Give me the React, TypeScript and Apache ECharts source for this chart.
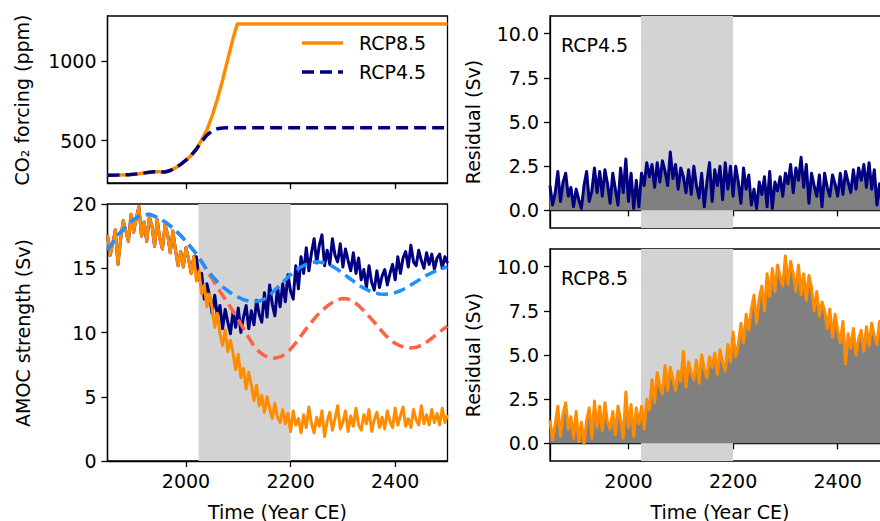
import React, { useEffect, useRef } from "react";
import * as echarts from "echarts";

const FONT = "DejaVu Sans";
const ORANGE = "#ff8c00";
const NAVY = "#000080";
const BLUE = "#1e90ff";
const TOMATO = "#ff6347";
const SHADE_COLOR = "#d3d3d3";
const FILL_COLOR = "#808080";

const X_MIN = 1850;
const X_MAX = 2500;
const X_TICKS = [2000, 2200, 2400];
const SHADE = [2024, 2200];
const LEGEND_NAMES = ["RCP8.5", "RCP4.5"];

// CO2 forcing (ppm)
const CO2_85_YEARS = [1850, 1870, 1890, 1910, 1930, 1940, 1950, 1960, 1970, 1980, 1990, 2000, 2010, 2020, 2030, 2040, 2050, 2060, 2070, 2080, 2090, 2098, 2500];
const CO2_85 = [284, 285, 287, 293, 302, 306, 305, 304, 313, 330, 352, 378, 408, 448, 505, 567, 655, 760, 880, 1010, 1140, 1232, 1232];
const CO2_45_YEARS = [1850, 1870, 1890, 1910, 1930, 1940, 1950, 1960, 1970, 1980, 1990, 2000, 2010, 2020, 2030, 2040, 2050, 2060, 2070, 2080, 2090, 2500];
const CO2_45 = [284, 285, 287, 293, 302, 306, 305, 304, 313, 330, 352, 378, 408, 448, 495, 535, 562, 575, 580, 581, 581, 581];
const CO2_TICKS = [500, 1000];

// AMOC strength (Sv), 5-year samples
const YEARS5 = Array.from({ length: 131 }, (_, i) => 1850 + 5 * i);
const HIST_YEARS = YEARS5.slice(0, 34);
const FUT_YEARS = YEARS5.slice(34);
const AMOC_HIST = [
  17.6, 16.0, 16.9, 18.0, 15.3, 17.2, 18.7, 17.9, 17.1, 19.2,
  17.8, 18.9, 19.8, 17.5, 18.6, 17.1, 19.0, 18.3, 16.7, 18.8,
  17.3, 16.5, 18.4, 17.6, 16.2, 17.9, 16.4, 15.2, 16.3, 15.1,
  16.6, 15.7, 14.6, 15.9,
];
const AMOC_85 = [
  14.0, 14.8, 13.0, 13.7, 12.0, 13.0, 11.9, 10.4, 11.5, 9.9, 9.0, 10.2, 8.5, 9.4, 8.4, 7.1,
  8.3, 6.5, 7.2, 5.6, 6.9, 5.9, 4.7, 5.9, 4.3, 5.1, 3.8, 5.0, 4.1, 3.3, 4.5, 3.4, 3.0, 4.0, 2.9, 3.7,
  2.3, 3.9, 2.8, 3.3, 2.2, 3.6, 2.6, 4.2, 2.9, 2.2, 3.4, 2.7, 3.9, 1.9, 3.1, 3.8, 2.4, 3.3, 4.3, 2.5,
  3.0, 3.9, 2.3, 3.5, 2.7, 4.1, 2.8, 2.4, 3.6, 2.9, 4.0, 2.3, 3.2, 3.8, 2.6, 3.4, 2.5, 3.9, 3.1, 2.6,
  4.1, 2.8, 3.5, 4.2, 2.7, 3.3, 2.6, 4.0, 3.2, 2.8, 4.3, 2.9, 3.6, 2.8, 4.0, 3.0, 3.7, 2.8, 4.1, 3.0,
  3.6,
];
const AMOC_45 = [
  15.9, 14.1, 14.6, 12.6, 13.8, 12.9, 11.5, 12.9, 11.3, 12.1, 10.3, 11.8, 10.8, 9.9, 11.6, 10.4,
  11.9, 10.0, 11.2, 12.1, 10.3, 11.7, 10.6, 12.5, 11.4, 10.8, 13.1, 11.2, 13.7, 12.2, 11.3, 13.5, 12.0, 13.8, 12.4, 14.5,
  13.2, 12.6, 15.2, 13.4, 15.9, 14.6, 16.6, 14.8, 16.2, 17.3, 15.4, 16.8, 17.6, 15.2, 16.4, 15.3, 17.3, 16.0, 15.5, 16.9,
  15.1, 16.5, 15.6, 14.8, 16.2, 14.6, 15.8, 14.1, 14.9, 13.5, 15.2, 13.9, 13.3, 14.8, 13.5, 14.4, 14.9, 13.7, 14.6, 15.3,
  14.1, 15.9, 14.6, 15.8, 16.3, 15.1, 16.8, 15.5, 15.2, 16.4, 15.6, 15.0, 16.2, 15.3, 16.1, 14.9, 15.8, 16.1, 15.0, 15.9,
  15.4,
];

// Fitted curves (Sv), 10-year samples
const FIT_YEARS = Array.from({ length: 66 }, (_, i) => 1850 + 10 * i);
const FIT_BLUE = [
  16.4, 17.0, 17.6, 18.0, 18.5, 18.8, 19.05, 19.15, 19.2, 19.05,
  18.85, 18.6, 18.3, 17.95, 17.55, 17.1, 16.6, 16.1, 15.5, 14.9,
  14.4, 13.95, 13.55, 13.25, 12.95, 12.75, 12.55, 12.45, 12.4, 12.45,
  12.6, 12.9, 13.3, 13.7, 14.1, 14.5, 14.85, 15.1, 15.3, 15.45,
  15.5, 15.45, 15.35, 15.15, 14.9, 14.6, 14.3, 14.0, 13.7, 13.45,
  13.25, 13.1, 13.0, 12.98, 13.0, 13.1, 13.25, 13.45, 13.7, 13.95,
  14.2, 14.45, 14.65, 14.85, 15.0, 15.1,
];
const FIT_RED = [
  16.4, 17.0, 17.6, 18.0, 18.5, 18.8, 19.05, 19.15, 19.2, 19.05,
  18.85, 18.6, 18.3, 17.95, 17.55, 17.1, 16.6, 16.1, 15.5, 14.8,
  14.2, 13.5, 12.9, 12.3, 11.65, 11.0, 10.3, 9.6, 8.95, 8.5,
  8.2, 8.05, 8.0, 8.1, 8.3, 8.7, 9.2, 9.75, 10.3, 10.8,
  11.3, 11.7, 12.05, 12.35, 12.55, 12.65, 12.6, 12.4, 12.1, 11.7,
  11.25, 10.8, 10.3, 9.85, 9.45, 9.15, 8.95, 8.85, 8.8, 8.85,
  9.0, 9.25, 9.55, 9.9, 10.2, 10.5,
];

// Residuals (Sv), 5-year samples
const RES_45 = [
  1.4, 0.3, 1.0, 2.2, 0.5, 1.6, 2.1, 0.8, 1.3, 0.2, 1.2, 0.6, 0.1, 1.4, 2.2, 0.5, 1.1, 2.4, 1.0, 2.2,
  0.8, 2.3, 1.5, 0.4, 2.1, 1.2, 0.3, 2.4, 1.0, 2.9, 0.5, 2.1, 0.1, 1.7, 0.2, 2.1, 1.4, 2.7, 1.9, 2.6,
  1.3, 2.7, 1.6, 2.8, 2.2, 1.4, 3.3, 1.8, 2.6, 1.2, 2.4, 1.9, 1.0, 2.3, 0.9, 2.5, 1.4, 0.7, 2.1, 0.2,
  1.6, 2.7, 0.5, 2.3, 1.4, 2.5, 0.6, 2.7, 1.2, 2.5, 0.8, 2.5, 1.6, 0.4, 2.4, 1.2, 2.0, 0.3, 1.2, 0.1,
  1.6, 0.9, 1.9, 0.2, 2.2, 0.1, 1.6, 1.1, 1.9, 0.8, 2.1, 1.5, 2.6, 1.0, 2.4, 1.7, 3.0, 1.3, 2.6, 0.4,
  2.1, 1.4, 0.8, 2.0, 0.2, 2.1, 1.3, 0.8, 2.0, 1.5, 0.8, 2.1, 0.9, 2.2, 1.6, 1.0, 2.3, 1.2, 2.4, 1.7,
  2.6, 1.3, 2.7, 1.2, 2.3, 0.3, 1.5, 0.2, 1.6, 0.3, 1.5,
];
const RES_85 = [
  1.3, 0.2, 1.1, 2.1, 0.4, 1.7, 2.3, 0.8, 1.5, 0.3, 1.8, 0.1, 1.2, 0.0, 1.3, 2.0, 0.3, 2.4, 0.9, 2.1,
  0.7, 2.3, 1.2, 0.8, 1.8, 0.5, 2.1, 1.3, 0.3, 2.9, 0.9, 2.2, 0.4, 2.0, 1.1, 2.1, 0.8, 2.5, 1.9, 3.6,
  2.3, 4.0, 3.2, 2.8, 4.4, 3.0, 4.3, 3.6, 3.0, 4.1, 3.5, 5.2, 3.2, 4.6, 4.0, 3.6, 4.7, 3.4, 5.0, 4.2,
  3.7, 4.9, 4.3, 5.1, 3.9, 5.3, 4.6, 4.1, 5.6, 4.6, 6.3, 4.9, 5.6, 6.8, 5.7, 7.3, 6.4, 7.6, 8.4, 6.8,
  8.2, 8.9, 7.5, 9.6, 8.3, 9.9, 8.6, 10.1, 9.4, 8.9, 10.6, 9.0, 10.3, 9.6, 8.6, 10.1, 8.4, 9.6, 8.1, 9.5,
  8.8, 7.5, 8.6, 7.2, 8.0, 7.5, 6.5, 7.6, 6.0, 7.3, 6.4, 5.7, 6.9, 4.5, 6.2, 5.4, 6.5, 5.0, 5.9, 6.4,
  5.2, 6.6, 5.5, 6.8, 6.1, 5.6, 6.9, 5.9, 7.2, 6.3, 7.0,
];

const AMOC_TICKS = [0, 5, 10, 15, 20];
const RES_TICKS = [0, 2.5, 5, 7.5, 10];

const pairs = (xs: number[], ys: number[]) => xs.map((x, i) => [x, ys[i]]);

const GRIDS = [
  { left: 107.5, top: 16, width: 340, height: 167 },
  { left: 107.5, top: 204, width: 340, height: 257 },
  { left: 550, top: 16, width: 340, height: 212 },
  { left: 550, top: 249, width: 340, height: 212 },
];

function buildOption() {
  const lineAxis = { show: true, lineStyle: { color: "#000", width: 1.3 } };
  const tickStyle = { color: "#000", width: 1.3 };
  const labelBase = { color: "#000", fontFamily: FONT, fontSize: 19 };
  const font = `19px '${FONT}'`;

  const xAxis = GRIDS.map((_, i) => {
    const bottom = i === 1 || i === 3;
    return {
      type: "value",
      gridIndex: i,
      min: X_MIN,
      max: X_MAX,
      axisLine: lineAxis,
      axisTick: { show: true, length: 6, lineStyle: tickStyle, customValues: X_TICKS },
      axisLabel: { ...labelBase, show: bottom, margin: 10, customValues: X_TICKS, formatter: (v: number) => String(v) },
      splitLine: { show: false },
      name: bottom ? "Time (Year CE)" : "",
      nameLocation: "middle",
      nameGap: 41,
      nameTextStyle: { ...labelBase },
    };
  });

  const yDefs = [
    { min: 235, max: 1282, ticks: CO2_TICKS, fmt: (v: number) => String(v) },
    { min: 0, max: 20, ticks: AMOC_TICKS, fmt: (v: number) => String(v) },
    { min: -1, max: 11, ticks: RES_TICKS, fmt: (v: number) => v.toFixed(1) },
    { min: -1, max: 11, ticks: RES_TICKS, fmt: (v: number) => v.toFixed(1) },
  ];
  const yAxis = yDefs.map((d, i) => ({
    type: "value",
    gridIndex: i,
    min: d.min,
    max: d.max,
    axisLine: lineAxis,
    axisTick: { show: true, length: 6, lineStyle: tickStyle, customValues: d.ticks },
    axisLabel: { ...labelBase, margin: 11, customValues: d.ticks, formatter: d.fmt },
    splitLine: { show: false },
  }));

  const shadeSeries = (i: number) => ({
    type: "line",
    name: "shade" + i,
    xAxisIndex: i,
    yAxisIndex: i,
    data: [],
    silent: true,
    z: 1,
    markArea: {
      silent: true,
      itemStyle: { color: SHADE_COLOR },
      label: { show: false },
      data: [[{ xAxis: SHADE[0] }, { xAxis: SHADE[1] }]],
    },
  });

  const noisy = (name: string, i: number, data: number[][], color: string, z: number, area = false) => ({
    type: "line",
    name,
    xAxisIndex: i,
    yAxisIndex: i,
    data,
    symbol: "none",
    silent: true,
    z,
    lineStyle: { color, width: 3, join: "round" },
    itemStyle: { color },
    ...(area ? { areaStyle: { color: FILL_COLOR, opacity: 1 } } : {}),
  });

  const dashed = (name: string, data: number[][], color: string, z: number) => ({
    type: "line",
    name,
    xAxisIndex: 1,
    yAxisIndex: 1,
    data,
    symbol: "none",
    silent: true,
    z,
    lineStyle: { color, width: 3.5, type: [12, 6] },
    itemStyle: { color },
  });

  const amocHistPairs = pairs(HIST_YEARS, AMOC_HIST);

  return {
    animation: false,
    backgroundColor: "#fff",
    textStyle: { fontFamily: FONT },
    grid: GRIDS.map((g) => ({
      ...g,
      show: true,
      borderColor: "#000",
      borderWidth: 1.3,
      backgroundColor: "transparent",
      containLabel: false,
      outerBoundsMode: "none",
    })),
    xAxis,
    yAxis,
    graphic: [
      { type: "text", x: 22, y: 100, rotation: Math.PI / 2, style: { text: "CO₂ forcing (ppm)", font, fill: "#000", align: "center", verticalAlign: "middle" } },
      { type: "text", x: 23, y: 333, rotation: Math.PI / 2, style: { text: "AMOC strength (Sv)", font, fill: "#000", align: "center", verticalAlign: "middle" } },
      { type: "text", x: 473, y: 122, rotation: Math.PI / 2, style: { text: "Residual (Sv)", font, fill: "#000", align: "center", verticalAlign: "middle" } },
      { type: "text", x: 473, y: 355, rotation: Math.PI / 2, style: { text: "Residual (Sv)", font, fill: "#000", align: "center", verticalAlign: "middle" } },
      { type: "text", x: 561, y: 45, z: 10, style: { text: "RCP4.5", font, fill: "#000", align: "left", verticalAlign: "middle" } },
      { type: "text", x: 561, y: 278, z: 10, style: { text: "RCP8.5", font, fill: "#000", align: "left", verticalAlign: "middle" } },
      // legend
      { type: "line", z: 10, shape: { x1: 302, y1: 43, x2: 343, y2: 43 }, style: { stroke: ORANGE, lineWidth: 3.5 } },
      { type: "line", z: 10, shape: { x1: 302, y1: 72, x2: 343, y2: 72 }, style: { stroke: NAVY, lineWidth: 3.5, lineDash: [12, 6] } },
      { type: "text", x: 359, y: 43, z: 10, style: { text: LEGEND_NAMES[0], font, fill: "#000", align: "left", verticalAlign: "middle" } },
      { type: "text", x: 359, y: 72, z: 10, style: { text: LEGEND_NAMES[1], font, fill: "#000", align: "left", verticalAlign: "middle" } },
    ],
    series: [
      {
        type: "line",
        name: LEGEND_NAMES[0],
        xAxisIndex: 0,
        yAxisIndex: 0,
        data: pairs(CO2_85_YEARS, CO2_85),
        symbol: "none",
        z: 2,
        lineStyle: { color: ORANGE, width: 3.5 },
        itemStyle: { color: ORANGE },
      },
      {
        type: "line",
        name: LEGEND_NAMES[1],
        xAxisIndex: 0,
        yAxisIndex: 0,
        data: pairs(CO2_45_YEARS, CO2_45),
        symbol: "none",
        z: 3,
        lineStyle: { color: NAVY, width: 3.5, type: [12, 6] },
        itemStyle: { color: NAVY },
      },
      shadeSeries(1),
      noisy("AMOC RCP4.5", 1, [...amocHistPairs, ...pairs(FUT_YEARS, AMOC_45)], NAVY, 2),
      noisy("AMOC RCP8.5", 1, [...amocHistPairs, ...pairs(FUT_YEARS, AMOC_85)], ORANGE, 3),
      dashed("Fit RCP8.5", pairs(FIT_YEARS, FIT_RED), TOMATO, 4),
      dashed("Fit RCP4.5", pairs(FIT_YEARS, FIT_BLUE), BLUE, 5),
      shadeSeries(2),
      noisy("Residual RCP4.5", 2, pairs(YEARS5, RES_45), NAVY, 3, true),
      shadeSeries(3),
      noisy("Residual RCP8.5", 3, pairs(YEARS5, RES_85), ORANGE, 3, true),
    ],
  };
}

export default function App() {
  const ref = useRef<HTMLDivElement>(null);
  useEffect(() => {
    if (!ref.current) return;
    const chart = echarts.init(ref.current, null, { renderer: "svg" });
    chart.setOption(buildOption() as any);
    return () => chart.dispose();
  }, []);
  return (
    <div
      ref={ref}
      style={{ position: "fixed", left: 0, top: 0, width: 880, height: 521, overflow: "hidden", background: "#fff" }}
    />
  );
}
